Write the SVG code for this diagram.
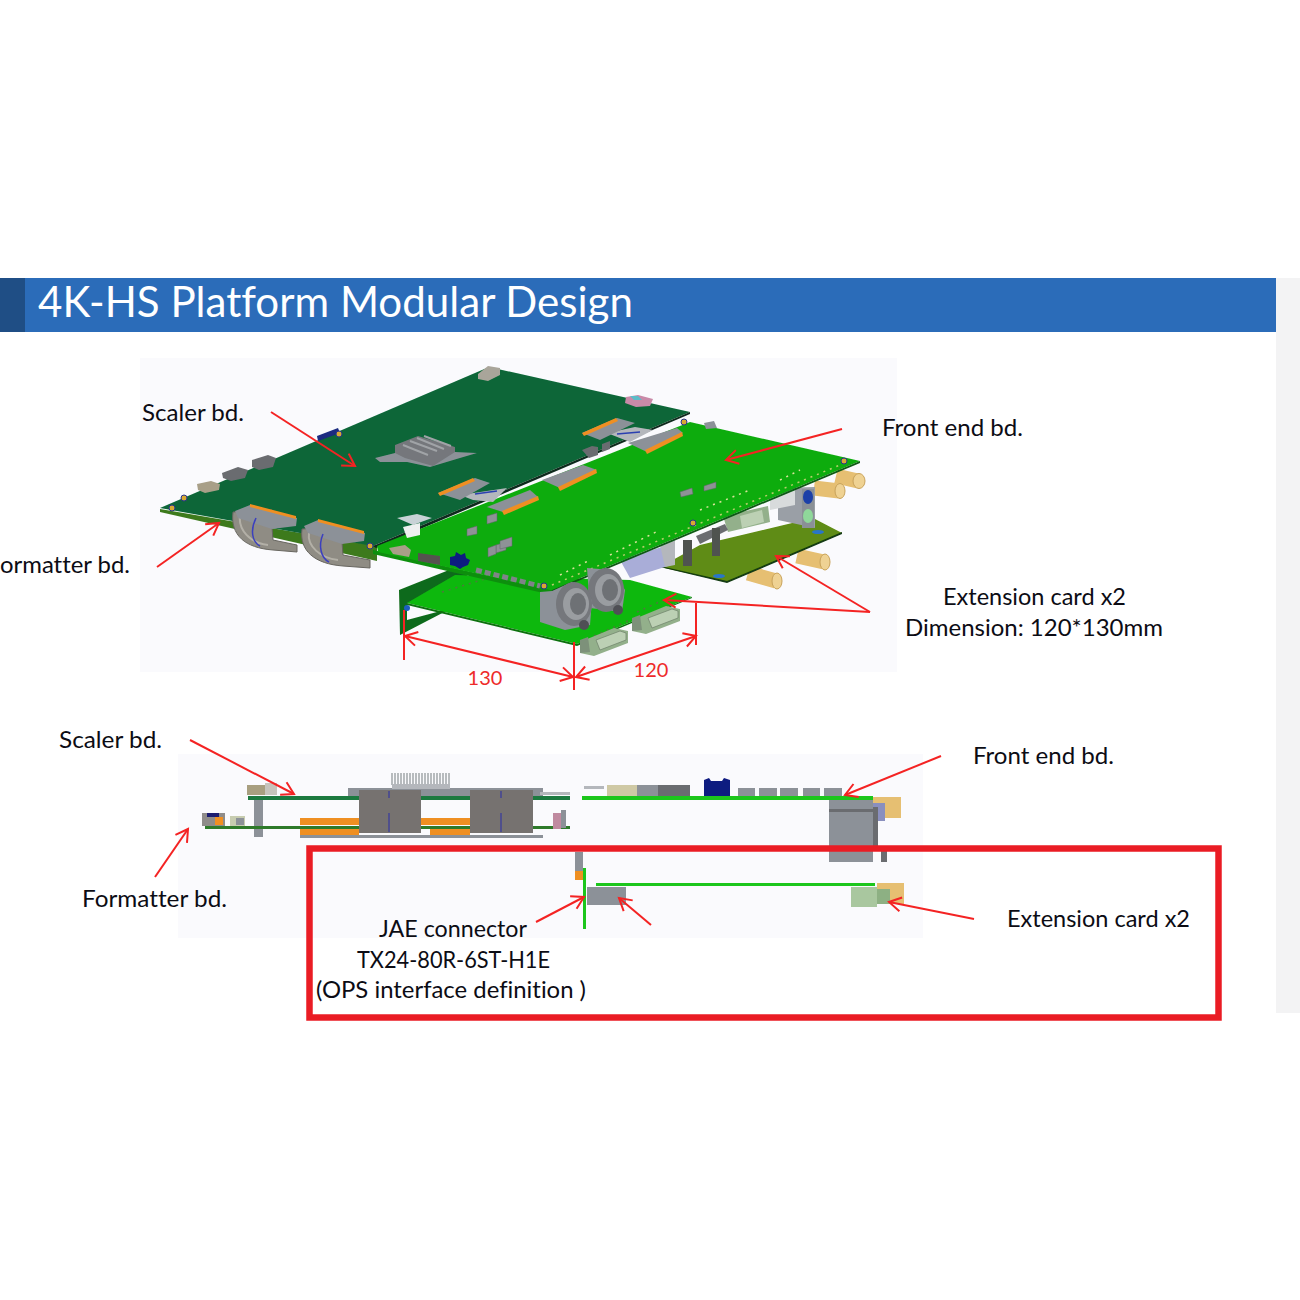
<svg xmlns="http://www.w3.org/2000/svg" width="1300" height="1300" viewBox="0 0 1300 1300">
<style>
text{font-family:"Lato","Open Sans","Liberation Sans",sans-serif;font-size:24px;fill:#0c0c14;font-variant-ligatures:none}
.c{text-anchor:middle}
.d{font-size:20px;fill:#ee2a2a}
.a{fill:none;stroke:#f42323;stroke-width:2}
.as{marker-end:url(#h)}
.gr{fill:#8c9198}.dg{fill:#6a6c70}.lg{fill:#b4b7bc}.or{fill:#ef8f24}.gd{fill:#e6bf72}.pg{fill:#a9c79f}.nv{fill:#101a80}
.sm{fill:#8e9296;stroke:#5f6266;stroke-width:.5}
.pin{stroke:#b7cf6b;stroke-width:1.5;stroke-dasharray:2 5;fill:none}
.cyl{stroke:#e6bf72;stroke-width:15;fill:none}
.rib{fill:#8f8c84;stroke:#67655f;stroke-width:1}
</style>
<defs>
<marker id="h" markerUnits="userSpaceOnUse" markerWidth="20" markerHeight="20" refX="16" refY="10" orient="auto"><path d="M4 3L16 10L4 17" fill="none" stroke="#f42323" stroke-width="2"/></marker>
<marker id="hs" markerUnits="userSpaceOnUse" markerWidth="20" markerHeight="20" refX="4" refY="10" orient="auto"><path d="M16 3L4 10L16 17" fill="none" stroke="#f42323" stroke-width="2"/></marker>
<filter id="b" x="-5%" y="-5%" width="110%" height="110%"><feGaussianBlur stdDeviation="0.45"/></filter>
<g id="db"><path d="M0 16L34 2L48 5L48 17L14 30L0 27Z" fill="#93b08b"/><path d="M16 14L40 5L46 7L46 14L20 24Z" fill="#bcd0b4" stroke="#6d7f68" stroke-width=".7"/><path d="M0 14L8 11L10 26L0 27Z" fill="#7d917a"/></g>
</defs>
<rect width="1300" height="1300" fill="#fff"/>
<g id="slide">
<rect x="1276" y="278" width="24" height="735" fill="#f3f3f4"/>
<rect x="140" y="358" width="757" height="314" fill="#fafafd"/>
<rect x="178" y="754" width="745" height="184" fill="#fafafd"/>
</g>
<g id="title">
<rect x="0" y="278" width="1276" height="54" fill="#2b6cb9"/>
<rect x="0" y="278" width="25" height="54" fill="#1f4e85"/>
<text x="38" y="317" textLength="595" lengthAdjust="spacingAndGlyphs" style="font-size:42px;fill:#fff">4K-HS Platform Modular Design</text>
</g>
<g id="iso-view" filter="url(#b)">
<!-- gold connectors -->
<path class="cyl" d="M814 488L839 491M836 476L858 481M797 556L824 562M748 573L776 581"/>
<g fill="#efd293" stroke="#c8a25a"><ellipse cx="840" cy="491" rx="5" ry="7.500"/><ellipse cx="859" cy="481" rx="6" ry="7.500"/><ellipse cx="825" cy="562" rx="5" ry="8"/><ellipse cx="777" cy="581" rx="5" ry="8"/></g>
<!-- olive extension card -->
<g id="ext-rear">
<path d="M660 567L700 545L813 518L842 533L727 582Z" fill="#5e8c12"/>
<path d="M660 567L727 583L842 534L842 532L727 581L660 566Z" fill="#123a12"/>
<path d="M778 488L815 487L815 528L778 520Z" fill="#9a9fa6"/><rect x="802" y="489" width="12" height="39" fill="#8a9096"/>
<ellipse cx="808" cy="497" rx="5" ry="7" fill="#1a3fa8"/><ellipse cx="808" cy="516" rx="5" ry="7" fill="#8fd89a"/>
<path d="M770 497L795 490L795 505L770 510Z" fill="#d8dbdc"/>
<path d="M723 516L768 506L770 522L728 532Z" fill="#93b08b"/><path d="M740 516L762 510L764 522L742 528Z" fill="#bcd0b4"/>
<path d="M696 536L725 524L728 530L700 544Z" class="dg"/><rect x="712" y="528" width="8" height="28" fill="#50534f"/><rect x="683" y="540" width="9" height="26" fill="#50534f"/>
<path d="M620 560L665 546L668 566L630 578Z" fill="#a9add8"/><path d="M660 545L675 540L675 565L665 567Z" class="lg"/>
<ellipse cx="818" cy="532" rx="6" ry="2" fill="#2a76c8"/><ellipse cx="719" cy="576" rx="6" ry="2" fill="#2a76c8"/>
</g>
<!-- lower extension card -->
<g id="ext-front">
<path d="M399 590L449 570L470 574L420 602L407 603L407 620L452 608L400 635Z" fill="#0f6b1a"/>
<path d="M407 603L455 575L630 580L692 597L577 644Z" fill="#0fb80f"/>
<path d="M407 603L577 644L692 597L692 598L577 646L407 605Z" fill="#0a7010"/>
<path class="pin" d="M442 592L488 578M594 636L630 620M637 612L668 598" style="stroke:#4d7a3a"/>
<circle cx="407" cy="608" r="3" fill="#1f5fc0"/>
<use href="#db" x="580" y="626"/><use href="#db" x="632" y="604"/>
</g>
<!-- scaler board -->
<g id="scaler-board">
<path d="M160 509L377 546L377 561L160 512Z" fill="#3d7a1e"/>
<path d="M160 508L489 367L690 412L373 546Z" fill="#0a6637"/>
<path d="M373 546L690 412L690 414L376 548Z" fill="#0c2a1c"/>
<path d="M478 374l10 -8 12 2 0 7 -12 6 -10 -2Z" fill="#a9a59a"/>
<path d="M626 397l12 -2 15 4 -3 7 -14 1 -11 -4Z" fill="#c98aa8"/><path d="M630 396l8 0 4 4 -8 0Z" fill="#5bbcc8"/>
<path d="M317 436L338 428L340 433L318 441Z" fill="#1a2a80"/>
<path d="M197 484l14 -3 9 3 -1 6 -14 3 -7 -3Z" fill="#a89f88"/><path d="M222 473l16 -6 10 3 -3 8 -14 3 -8 -3Z" class="dg"/><path d="M252 460l16 -5 8 3 -3 9 -14 3 -7 -3Z" class="dg"/>
<g fill="#d8a830" stroke="#27348c"><circle cx="172" cy="508" r="3"/><circle cx="184" cy="498" r="3"/><circle cx="339" cy="434" r="3"/><circle cx="370" cy="546" r="3"/></g>
<!-- heatsink -->
<path d="M375 458L395 453L455 452L477 453L460 458L430 467L407 462L380 462Z" class="gr"/>
<path d="M395 453V445L418 436L455 447V452L433 466L405 458Z" fill="#74777b"/>
<path d="M403 445L428 455M410 441L437 451M417 438L444 449M424 436L451 446" stroke="#a0a3a7" stroke-width="2"/>
<!-- scaler ribbons -->
<g id="rib1"><path class="rib" d="M233 512C230 535 245 548 273 550L297 552L297 545L273 540L272 527L272 510Z"/><path d="M240 515C238 530 250 543 268 545" stroke="#b3b0a7" fill="none" stroke-width="2"/><path d="M235 511L250 505L297 518L296 526L272 529L238 518Z" class="gr"/><path d="M250 504L296 516L296 519L250 507Z" class="or"/><path d="M256 518C250 530 252 542 260 546" stroke="#3b3fbf" fill="none" stroke-width="1.500"/></g>
<g id="rib2"><path class="rib" d="M302 529C299 551 315 564 343 566L370 568L370 560L343 555L342 542L342 526Z"/><path d="M309 533C307 546 320 558 338 560" stroke="#b3b0a7" fill="none" stroke-width="2"/><path d="M304 526L318 520L365 533L364 541L342 544L308 533Z" class="gr"/><path d="M318 519L364 531L364 534L318 522Z" class="or"/><path d="M323 534C318 546 321 558 329 562" stroke="#3b3fbf" fill="none" stroke-width="1.500"/></g>
</g>
<!-- front end board -->
<g id="front-end-board">
<path d="M373 550L552 590L552 595L373 554Z" fill="#0b8f10"/>
<path d="M377 546L690 422L860 461L552 590L378 552Z" fill="#10ac10"/>
<path d="M552 590L860 461L860 463L552 592Z" fill="#0b5a12"/>
<path class="pin" d="M552 585L840 465"/>
<path class="pin" d="M560 575L590 560M610 555L660 530M700 510L750 490M780 480L800 470" style="stroke:#d9e39a"/>
<!-- top connectors -->
<path d="M460 495L507 488L493 502L473 500Z" class="lg"/><path d="M475 494L497 491" stroke="#2b3fb0" stroke-width="1.500"/>
<path d="M438 493L475 478L490 483L460 500Z" class="gr"/><path d="M438 493L473 478L475 481L440 496Z" class="or"/>
<path d="M487 507L530 490L538 497L503 512Z" class="gr"/><path d="M502 511L538 496L539 500L504 515Z" class="or"/>
<path d="M542 480L583 465L597 470L560 488Z" class="gr"/><path d="M558 487L596 469L597 473L560 491Z" class="or"/>
<path d="M607 433L635 427L653 430L630 442Z" class="lg"/><path d="M617 434L640 432" stroke="#2b3fb0" stroke-width="1.500"/>
<path d="M582 433L617 418L635 423L600 440Z" class="gr"/><path d="M582 433L616 418L618 421L584 436Z" class="or"/>
<path d="M628 443L677 428L683 433L647 452Z" class="gr"/><path d="M645 450L682 432L683 436L647 454Z" class="or"/>
<path d="M397 518L417 514L432 518L413 525Z" fill="#c8d2d6"/><path d="M403 527L420 523L420 535L407 538Z" fill="#eef0f0"/>
<path d="M389 548l16 -3 6 5 -2 7 -16 -3Z" fill="#a89f88"/><path d="M418 553l22 3 0 9 -22 -4Z" fill="#55534f"/>
<path d="M450 557l5 -1 1 -4 5 3 4 -2 1 5 4 2 -2 5 -5 2 -3 2 -5 -3 -5 -1Z" class="nv"/>
<g class="sm"><path d="M467 529l10 -3 0 8 -10 2Z"/><path d="M487 516l10 -3 0 8 -10 3Z"/><path d="M496 545l10 -3 0 8 -10 3Z"/><path d="M488 548l8 -3 0 9 -8 3Z"/><path d="M500 541l12 -4 0 9 -12 3Z"/><path d="M680 492l12 -4 1 6 -12 3Z"/><path d="M704 486l12 -4 0 6 -12 3Z"/></g>
<path d="M476 570L540 586" stroke="#7f8388" stroke-width="5" stroke-dasharray="6 3"/>
<path d="M582 450l10 -4 6 1 0 8 -9 3Z" class="dg"/><path d="M602 444l8 -3 0 8 -8 3Z" class="dg"/>
<path d="M704 423l10 -2 3 7 -11 1Z" class="gr"/>
<g fill="#d8a830" stroke="#27348c"><circle cx="844" cy="461" r="3"/><circle cx="684" cy="422" r="3"/><circle cx="693" cy="523" r="3"/><circle cx="544" cy="586" r="3"/></g>
</g>
<!-- round sockets -->
<g id="sockets">
<path d="M587 568L612 570L625 590L622 612L590 608Z" class="gr"/>
<ellipse cx="606" cy="590" rx="18" ry="22" fill="#74777b"/><ellipse cx="608" cy="590" rx="13" ry="16" fill="#9a9da1"/><ellipse cx="610" cy="590" rx="8" ry="11" fill="#6e7175"/>
<circle cx="618" cy="610" r="5" fill="#4f5054"/>
<path d="M540 592L552 591L572 582L592 600L590 625L565 630L540 622Z" class="gr"/>
<ellipse cx="574" cy="604" rx="18" ry="22" fill="#74777b"/><ellipse cx="576" cy="604" rx="13" ry="16" fill="#9a9da1"/><ellipse cx="578" cy="604" rx="8" ry="11" fill="#6e7175"/>
<circle cx="584" cy="625" r="5" fill="#4f5054"/>
</g>
</g>
<g id="side-view" filter="url(#b)">
<g id="side-scaler">
<rect x="348" y="788" width="195" height="9" class="gr"/>
<path d="M392 785V773M395 785V773M398 785V773M401 785V773M404 785V773M407 785V773M410 785V773M413 785V773M416 785V773M419 785V773M422 785V773M425 785V773M428 785V773M431 785V773M434 785V773M437 785V773M440 785V773M443 785V773M446 785V773M449 785V773" stroke="#a3a6aa" stroke-width="1.500"/>
<rect x="392" y="784" width="58" height="5" class="lg"/>
<rect x="247" y="785" width="22" height="10" fill="#a89f80"/><rect x="265" y="783" width="12" height="12" fill="#c6c4bc"/>
<rect x="248" y="796" width="322" height="4" fill="#1c7a40"/>
<rect x="254" y="800" width="9" height="37" class="gr"/>
<rect x="540" y="792" width="30" height="3" class="lg"/>
</g>
<g id="side-formatter">
<rect x="202" y="813" width="23" height="13" fill="#8f8c8a"/><rect x="207" y="813" width="12" height="4" fill="#1a1a70"/><rect x="215" y="817" width="8" height="8" class="or"/><rect x="230" y="816" width="15" height="10" fill="#c7ccb0"/><rect x="236" y="818" width="8" height="7" class="gr"/>
<rect x="300" y="818" width="59" height="7" class="or"/><rect x="300" y="829" width="59" height="8" class="or"/><rect x="421" y="818" width="49" height="7" class="or"/><rect x="430" y="829" width="40" height="8" class="or"/><rect x="300" y="835" width="243" height="3" class="gr"/>
<rect x="205" y="826" width="365" height="3" fill="#2f7a2a"/>
<rect x="359" y="790" width="62" height="43" fill="#767270"/><rect x="470" y="790" width="63" height="43" fill="#767270"/>
<path d="M389 791V798M389 813V832M501 791V798M501 813V832" stroke="#2a2fa8" stroke-width="1"/>
<rect x="553" y="813" width="8" height="16" fill="#c08aa0"/><rect x="561" y="810" width="5" height="18" class="gr"/>
</g>
<g id="side-front">
<rect x="607" y="785" width="30" height="11" fill="#cfc9a5"/><rect x="637" y="785" width="21" height="11" class="gr"/><rect x="658" y="785" width="32" height="11" class="dg"/><rect x="584" y="786" width="20" height="3" class="lg"/>
<path d="M704 796V780L709 778L711 781L722 781L724 778L730 780V796Z" class="nv"/>
<g class="gr"><rect x="738" y="788" width="17" height="8"/><rect x="759" y="788" width="18" height="8"/><rect x="780" y="788" width="18" height="8"/><rect x="803" y="788" width="17" height="8"/><rect x="824" y="788" width="18" height="8"/></g>
<path d="M873 797H891L901 797V818H880L873 812Z" class="gd"/><rect x="873" y="803" width="12" height="18" fill="#8a8fbe"/>
<rect x="829" y="800" width="44" height="62" class="gr"/><rect x="829" y="809" width="44" height="3" class="dg"/><rect x="873" y="807" width="5" height="40" class="dg"/><rect x="881" y="850" width="6" height="12" class="dg"/>
<rect x="582" y="796" width="291" height="4" fill="#1ec61e"/>
</g>
<g id="side-extension">
<rect x="575" y="852" width="8" height="19" class="gr"/><rect x="575" y="871" width="8" height="9" class="or"/>
<rect x="587" y="887" width="39" height="18" class="gr"/>
<rect x="877" y="883" width="27" height="21" class="gd"/><rect x="851" y="887" width="26" height="20" class="pg"/><rect x="877" y="889" width="13" height="15" fill="#8db083"/>
<rect x="596" y="883" width="279" height="3" fill="#1ec61e"/><rect x="583" y="868" width="3" height="61" fill="#1ec61e"/>
</g>
</g>
<rect id="red-box" x="309.500" y="848.500" width="909" height="169" fill="none" stroke="#ea1c24" stroke-width="6.500"/>
<g id="connectors">
<path class="a as" d="M271 412L355 466"/>
<path class="a as" d="M842 429L726 460"/>
<path class="a as" d="M157 567L219 523"/>
<path class="a as" d="M870 612L776 556"/>
<path class="a as" d="M870 612L664 600"/>
<path class="a" d="M404 610V660M574 642V690M696 603V645"/>
<path class="a" d="M405 636L573 677" marker-start="url(#hs)" marker-end="url(#h)"/>
<path class="a" d="M576 677L696 636" marker-start="url(#hs)" marker-end="url(#h)"/>
<path class="a as" d="M190 740L294 794"/>
<path class="a as" d="M941 756L845 795"/>
<path class="a as" d="M155 877L188 829"/>
<path class="a as" d="M536 922L584 897"/>
<path class="a as" d="M651 925L619 898"/>
<path class="a as" d="M974 919L889 902"/>
</g>
<g id="labels">
<text x="142" y="421" textLength="102" lengthAdjust="spacingAndGlyphs">Scaler bd.</text>
<text x="882" y="436" textLength="141" lengthAdjust="spacingAndGlyphs">Front end bd.</text>
<text x="0" y="573" textLength="130" lengthAdjust="spacingAndGlyphs">ormatter bd.</text>
<text x="943" y="605" textLength="183" lengthAdjust="spacingAndGlyphs">Extension card x2</text>
<text x="905" y="636" textLength="258" lengthAdjust="spacingAndGlyphs">Dimension: 120*130mm</text>
<text x="485" y="685" class="c d">130</text>
<text x="651" y="677" class="c d">120</text>
<text x="59" y="748" textLength="103" lengthAdjust="spacingAndGlyphs">Scaler bd.</text>
<text x="973" y="764" textLength="141" lengthAdjust="spacingAndGlyphs">Front end bd.</text>
<text x="82" y="907" textLength="145" lengthAdjust="spacingAndGlyphs">Formatter bd.</text>
<text x="379" y="937" textLength="148" lengthAdjust="spacingAndGlyphs">JAE connector</text>
<text x="357" y="968" textLength="193" lengthAdjust="spacingAndGlyphs">TX24-80R-6ST-H1E</text>
<text x="316" y="998" textLength="270" lengthAdjust="spacingAndGlyphs">(OPS interface definition )</text>
<text x="1007" y="927" textLength="183" lengthAdjust="spacingAndGlyphs">Extension card x2</text>
</g>
</svg>
